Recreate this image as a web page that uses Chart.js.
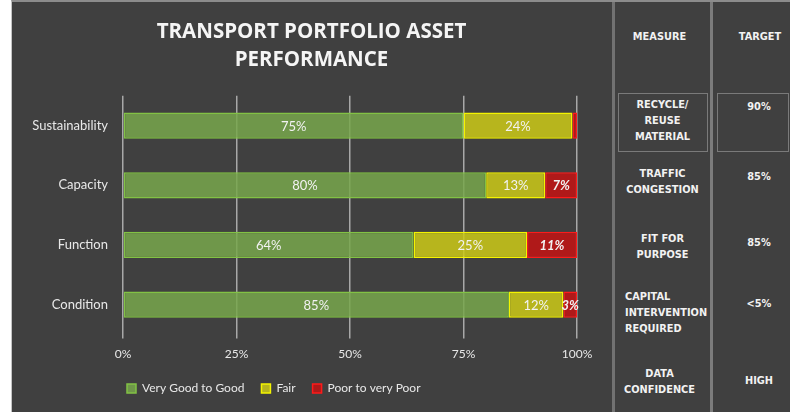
<!DOCTYPE html>
<html>
<head>
<meta charset="utf-8">
<title>Transport Portfolio Asset Performance</title>
<script src="https://cdn.jsdelivr.net/npm/chart.js@4.4.0/dist/chart.umd.min.js"></script>
<style>
    body { margin: 0; width: 790px; height: 412px; background: #fff; position: relative; overflow: hidden; }
    #panel { position: absolute; left: 11px; top: 0; width: 779px; height: 412px; background: #404040;
             border-top: 2px solid #8c8c8c; border-left: 1px solid #c4c4c4; box-sizing: border-box; }
    #chartBox { position: absolute; left: 12px; top: 2px; width: 600px; height: 410px; }
    .sep { position: absolute; top: 2px; height: 410px; background: #727272; }
    .cell { position: absolute; color: #f2f2f2; font: bold 9.8px 'DejaVu Sans', sans-serif; line-height: 16px; text-align: center; }
    .boxed { position: absolute; border: 1px solid #7a7a7a; box-sizing: border-box; }
</style>
</head>
<body>
<div id="panel"></div>
<div id="chartBox"><canvas id="chartAssets" width="600" height="410"></canvas></div>

<!-- tabla lateral de medidas / objetivos -->
<div class="sep" style="left:612px; width:3px;"></div>
<div class="sep" style="left:710px; width:3px; background:#7c7c7c;"></div>
<div class="boxed" style="left:618px; top:93px; width:90px; height:59px;"></div>
<div class="boxed" style="left:717px; top:93px; width:72px; height:59px;"></div>

<div class="cell" style="left:612px; width:95px; top:29px;">MEASURE</div>
<div class="cell" style="left:713px; width:94px; top:29px;">TARGET</div>

<div class="cell" style="left:615px; width:95px; top:97px;">RECYCLE/<br>REUSE<br>MATERIAL</div>
<div class="cell" style="left:713px; width:92px; top:99px;">90%</div>

<div class="cell" style="left:615px; width:95px; top:166px;">TRAFFIC<br>CONGESTION</div>
<div class="cell" style="left:713px; width:92px; top:169px;">85%</div>

<div class="cell" style="left:615px; width:95px; top:231px;">FIT FOR<br>PURPOSE</div>
<div class="cell" style="left:713px; width:92px; top:235px;">85%</div>

<div class="cell" style="left:625px; width:90px; top:289px; text-align:left;">CAPITAL<br>INTERVENTION<br>REQUIRED</div>
<div class="cell" style="left:713px; width:92px; top:296px;">&lt;5%</div>

<div class="cell" style="left:612px; width:95px; top:366px;">DATA<br>CONFIDENCE</div>
<div class="cell" style="left:713px; width:92px; top:373px;">HIGH</div>

<script>
// --- Datos ---
const categories = ['Sustainability', 'Capacity', 'Function', 'Condition'];
const goodValues = [75, 80, 64, 85];
const fairValues = [24, 13, 25, 12];
const poorValues = [1, 7, 11, 3];
const seriesNames = ['Very Good to Good', 'Fair', 'Poor to very Poor'];
const xTicks = [0, 25, 50, 75, 100];
const titleLines = ['TRANSPORT PORTFOLIO ASSET', 'PERFORMANCE'];

const textColor = '#e8e8e8';

// etiquetas de porcentaje dentro de cada segmento
const barLabels = {
    id: 'barLabels',
    afterDatasetsDraw(chart) {
        const ctx = chart.ctx;
        ctx.save();
        ctx.textAlign = 'center';
        ctx.textBaseline = 'middle';
        ctx.fillStyle = '#f2f2f2';
        chart.data.datasets.forEach((ds, i) => {
            const meta = chart.getDatasetMeta(i);
            ctx.font = (i === 2 ? 'italic bold ' : '') + '13px Lato';
            meta.data.forEach((bar, j) => {
                const v = ds.data[j];
                if (v < 2) return; // el 1% no lleva etiqueta
                ctx.fillText(v + '%', (bar.x + bar.base) / 2, bar.y + 1);
            });
        });
        ctx.restore();
    }
};

// titulo centrado en el panel y leyenda un poco a la izquierda
const blockShift = {
    id: 'blockShift',
    afterLayout(chart) {
        chart.titleBlock.left += 17;
        chart.titleBlock.right += 17;
        chart.legend.left -= 13;
        chart.legend.right -= 13;
    }
};

function serie(label, data, fill, border) {
    return {
        label: label,
        data: data,
        backgroundColor: fill,
        borderColor: border,
        borderWidth: 1.5,
        borderSkipped: false,
        barPercentage: 0.44,
        categoryPercentage: 1
    };
}

new Chart(document.getElementById('chartAssets').getContext('2d'), {
    type: 'bar',
    data: {
        labels: categories,
        datasets: [
            serie(seriesNames[0], goodValues, 'rgba(120,167,76,0.85)', '#82c244'),
            serie(seriesNames[1], fairValues, 'rgba(204,202,24,0.85)', '#f4f400'),
            serie(seriesNames[2], poorValues, 'rgba(196,19,19,0.85)', '#ff1a1a')
        ]
    },
    options: {
        indexAxis: 'y',
        responsive: false,
        animation: false,
        layout: { padding: { left: 0, right: 35, top: 0, bottom: 7.5 } },
        scales: {
            x: {
                stacked: true,
                min: 0,
                max: 100,
                afterBuildTicks: scale => { scale.ticks = xTicks.map(v => ({ value: v })); },
                afterFit: scale => { scale.height = 31; },
                ticks: {
                    color: textColor,
                    font: { family: 'Lato', size: 12 },
                    padding: 8,
                    callback: v => v + '%'
                },
                grid: { color: '#a8a8a8', lineWidth: 1.5, tickLength: 4 },
                border: { display: false }
            },
            y: {
                stacked: true,
                afterFit: scale => { scale.width = 111; },
                ticks: {
                    color: textColor,
                    font: { family: 'Lato', size: 13 },
                    padding: 15
                },
                grid: { display: false, drawTicks: false },
                border: { display: false }
            }
        },
        plugins: {
            title: {
                display: true,
                text: titleLines,
                color: '#f5f5f5',
                font: { family: 'Open Sans', size: 20.5, weight: 'bold', lineHeight: 1.36 },
                padding: { top: 16, bottom: 22 }
            },
            legend: {
                position: 'bottom',
                align: 'start',
                fullSize: false,
                labels: {
                    color: textColor,
                    font: { family: 'Lato', size: 12 },
                    boxWidth: 9,
                    boxHeight: 9,
                    padding: 17
                }
            },
            tooltip: { enabled: false }
        }
    },
    plugins: [barLabels, blockShift]
});
</script>
</body>
</html>
